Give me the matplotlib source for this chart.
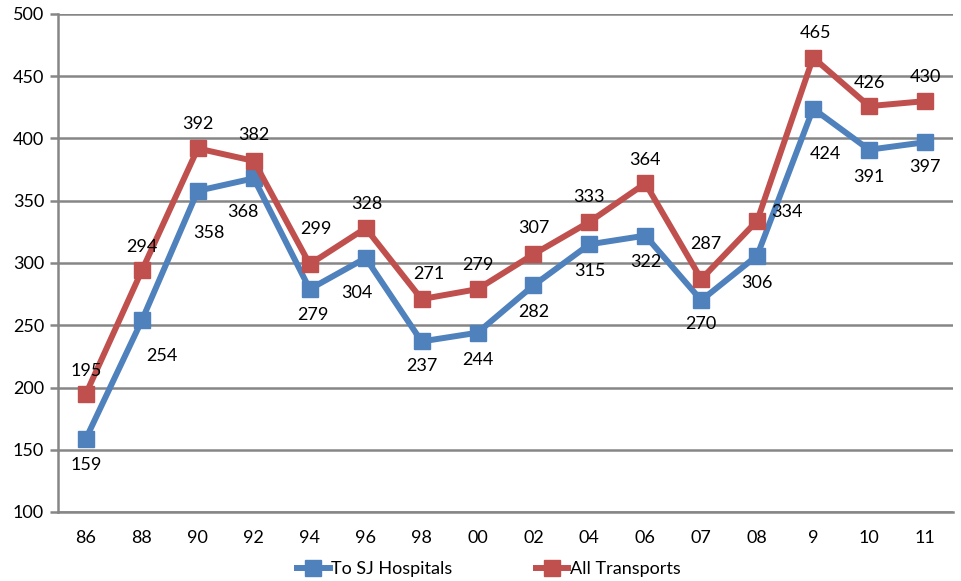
import numpy as np
import matplotlib.pyplot as plt

plt.rcParams['font.family'] = ['Lato', 'DejaVu Sans']

years = ["86", "88", "90", "92", "94", "96", "98", "00", "02", "04", "06", "07", "08", "9", "10", "11"]
sj_hospitals = [159, 254, 358, 368, 279, 304, 237, 244, 282, 315, 322, 270, 306, 424, 391, 397]
all_transports = [195, 294, 392, 382, 299, 328, 271, 279, 307, 333, 364, 287, 334, 465, 426, 430]

# label nudges in pixels (dx, dy), dy positive = up
sj_offsets = [(0, -26), (20, -36), (11, -42), (-11, -34), (3, -26), (-9, -35), (0, -25), (0, -27),
              (0, -27), (0, -27), (0, -26), (0, -24), (0, -27), (12, -45), (0, -27), (0, -25)]
all_offsets = [(0, 23), (0, 23), (0, 24), (0, 26), (6, 35), (1, 24), (7, 25), (0, 24),
               (0, 26), (0, 25), (0, 23), (5, 35), (30, 9), (2, 25), (0, 23), (0, 24)]

blue = "#4F81BD"
red = "#C0504D"
grid_col = "#868686"
fs = 13

fig = plt.figure(figsize=(9.62, 5.81), dpi=100)
ax = fig.add_axes([58 / 962, 1 - 512 / 581, (953 - 58) / 962, (512 - 14) / 581])

x = np.arange(len(years))
ax.plot(x, sj_hospitals, color=blue, lw=4.3, marker="s", ms=11, label="To SJ Hospitals")
ax.plot(x, all_transports, color=red, lw=4.3, marker="s", ms=11, label="All Transports")

for xi, v, (dx, dy) in zip(x, sj_hospitals, sj_offsets):
    ax.annotate(str(v), (xi, v), xytext=(dx, dy), textcoords="offset pixels",
                ha="center", va="center", fontsize=fs, color="black")
for xi, v, (dx, dy) in zip(x, all_transports, all_offsets):
    ax.annotate(str(v), (xi, v), xytext=(dx, dy), textcoords="offset pixels",
                ha="center", va="center", fontsize=fs, color="black")

ax.set_xlim(-0.5, len(years) - 0.5)
ax.set_ylim(100, 500)
ax.set_yticks(range(100, 501, 50))
ax.set_xticks(x)
ax.set_xticklabels(years)
ax.grid(axis="y", color=grid_col, lw=1.8)
ax.set_axisbelow(True)

for side in ["top", "right"]:
    ax.spines[side].set_visible(False)
for side in ["left", "bottom"]:
    ax.spines[side].set_color(grid_col)
    ax.spines[side].set_linewidth(1.8)
ax.tick_params(axis="y", length=6, width=1.8, color=grid_col, labelsize=fs, pad=4)
ax.tick_params(axis="x", length=0, labelsize=fs, pad=13)

fig.legend(*ax.get_legend_handles_labels(), loc="center", bbox_to_anchor=(489 / 962, 1 - 569 / 581),
           ncol=2, frameon=False, fontsize=fs, handlelength=1.8, handletextpad=0.1,
           columnspacing=4.6, borderaxespad=0)

fig.savefig("out.png", dpi=100)
